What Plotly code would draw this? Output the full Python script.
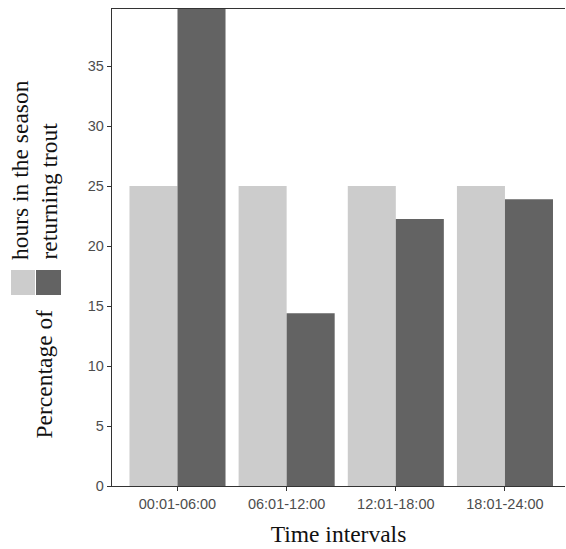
import plotly.graph_objects as go

categories = ["00:01-06:00", "06:01-12:00", "12:01-18:00", "18:01-24:00"]
hours_pct = [25, 25, 25, 25]
trout_pct = [39.8, 14.4, 22.25, 23.9]
y_ticks = [0, 5, 10, 15, 20, 25, 30, 35]

W, H = 566, 549
L, R, T, B = 112, 1, 9, 63
pw, ph = W - L - R, H - T - B

def px(x):
    return (x - L) / pw

def py(y):
    return (H - B - y) / ph

fig = go.Figure()
fig.add_trace(go.Bar(x=categories, y=hours_pct, marker=dict(color="#cccccc", line=dict(width=0)),
                     name="hours in the season", showlegend=False))
fig.add_trace(go.Bar(x=categories, y=trout_pct, marker=dict(color="#636363", line=dict(width=0)),
                     name="returning trout", showlegend=False))

serif = "Liberation Serif, Times New Roman, serif"
sans = "Arial, Liberation Sans, sans-serif"
FS = 23.5
fig.update_layout(
    width=W, height=H,
    margin=dict(l=L, r=R, t=T, b=B),
    paper_bgcolor="white", plot_bgcolor="white",
    barmode="group", bargap=0.12, bargroupgap=0,
    xaxis=dict(range=[-0.6, 3.55], showline=True, linecolor="#333333", linewidth=1.3,
               mirror=True, ticks="outside", ticklen=4, tickcolor="#333333",
               tickfont=dict(family=sans, size=14.5, color="#4d4d4d"),
               title=dict(text="Time intervals", font=dict(family=serif, size=FS, color="#111111"), standoff=15),
               showgrid=False, zeroline=False),
    yaxis=dict(range=[0, 39.75], tickvals=y_ticks, showline=True, linecolor="#333333", linewidth=1.3,
               ticks="outside", ticklen=4, tickcolor="#333333",
               tickfont=dict(family=sans, size=14.5, color="#4d4d4d"),
               showgrid=False, zeroline=False),
)

# legend built from shapes and rotated text
fig.add_shape(type="rect", xref="paper", yref="paper", x0=px(11), x1=px(35), y0=py(295), y1=py(270),
              fillcolor="#cccccc", line=dict(width=0))
fig.add_shape(type="rect", xref="paper", yref="paper", x0=px(36), x1=px(61), y0=py(295), y1=py(270),
              fillcolor="#636363", line=dict(width=0))
fig.add_annotation(text="hours in the season", xref="paper", yref="paper", x=px(20), y=py(262),
                   xanchor="center", yanchor="bottom", textangle=-90, showarrow=False,
                   font=dict(family=serif, size=FS, color="#111111"))
fig.add_annotation(text="returning trout", xref="paper", yref="paper", x=px(48), y=py(262),
                   xanchor="center", yanchor="bottom", textangle=-90, showarrow=False,
                   font=dict(family=serif, size=FS, color="#111111"))
fig.add_annotation(text="Percentage of", xref="paper", yref="paper", x=px(44), y=py(308),
                   xanchor="center", yanchor="top", textangle=-90, showarrow=False,
                   font=dict(family=serif, size=FS, color="#111111"))

fig.write_html("out.html", config={"displayModeBar": False},
               post_script="document.body.style.margin='0';document.body.style.overflow='hidden';")
